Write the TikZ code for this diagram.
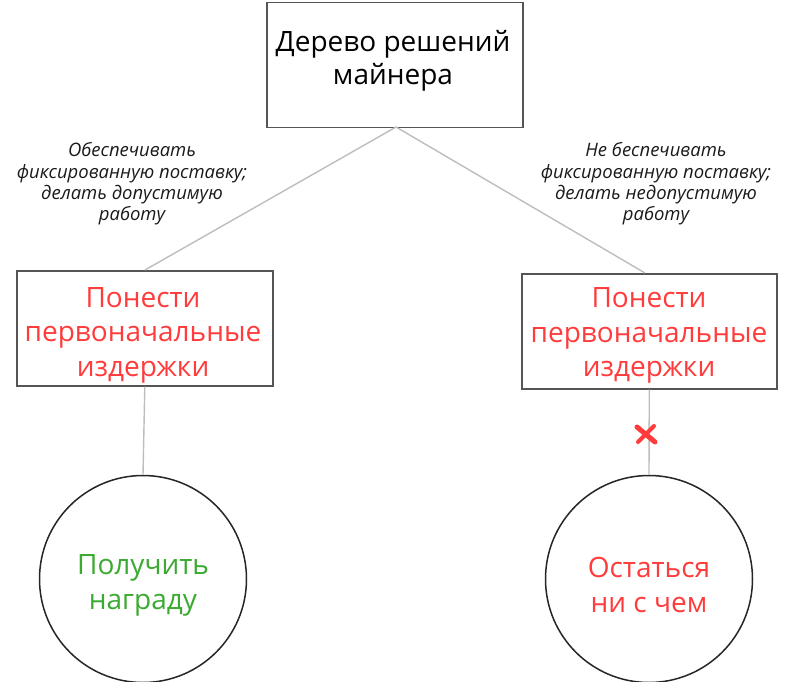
\documentclass[tikz,border=0pt]{standalone}
\usepackage{fontspec}
\setmainfont{Open Sans}
\definecolor{boxline}{HTML}{555555}
\definecolor{conn}{HTML}{BDBDBD}
\definecolor{redtxt}{HTML}{FF3B3B}
\definecolor{greentxt}{HTML}{3BAA32}
\definecolor{labtxt}{HTML}{1A1A1A}
\begin{document}
\begin{tikzpicture}[x=1pt,y=-1pt,
  box/.style={draw=boxline,line width=1.6pt,fill=white,rectangle,align=center,inner sep=0pt},
  circ/.style={draw=black!85,line width=1.5pt,fill=white,circle,align=center,inner sep=0pt,minimum size=207pt},
  conn/.style={draw=conn,line width=1.4pt},
  lab/.style={align=center,font=\fontsize{18.5}{21.3}\selectfont\itshape,text=labtxt,inner sep=0pt},
  bigtxt/.style={font=\fontsize{28}{33.5}\selectfont},
  midtxt/.style={font=\fontsize{28}{34.5}\selectfont},
  circtxt/.style={font=\fontsize{28}{35}\selectfont}]
\useasboundingbox (0,0) rectangle (804,681);
\node[box,minimum width=256pt,minimum height=125pt,anchor=north west] (root) at (266,1.5) {};
\node[bigtxt,align=center] (roottxt) at (393,61) {Дерево решений\\майнера};
\node[box,minimum width=256pt,minimum height=115pt,anchor=north west] (L) at (16,270) {};
\node[midtxt,align=center,text=redtxt] (Ltxt) at (143,335) {Понести\\первоначальные\\издержки};
\node[box,minimum width=255pt,minimum height=115pt,anchor=north west] (R) at (521,273) {};
\node[midtxt,align=center,text=redtxt] (Rtxt) at (649,335.5) {Понести\\первоначальные\\издержки};
\node[circ,circtxt,text=greentxt] (LC) at (143,579) {};
\node[circtxt,align=center,text=greentxt] (LCtxt) at (143,585) {Получить\\награду};
\node[circ,circtxt,text=redtxt] (RC) at (649,579) {};
\node[circtxt,align=center,text=redtxt] (RCtxt) at (649,585) {Остаться\\ни с чем};
\coordinate (rootb) at (396,127);
\coordinate (Lt) at (145,270);
\coordinate (Rt) at (645,273);
\draw[conn] (rootb) -- (Lt);
\draw[conn] (rootb) -- (Rt);
\draw[conn] (L.south) -- (LC.north);
\draw[conn] (R.south) -- (RC.north);
\node[lab] (labL) at (132,184) {Обеспечивать\\фиксированную поставку;\\делать допустимую\\работу};
\node[lab] (labR) at (656,184) {Не беспечивать\\фиксированную поставку;\\делать недопустимую\\работу};
\node[inner sep=0pt,minimum size=22pt] (X) at (646,434) {};
\draw[redtxt,line width=5pt,line cap=round] ([shift={(-9,-7)}]X.center) -- ([shift={(9,8)}]X.center);
\draw[redtxt,line width=4pt,line cap=round] ([shift={(8,-8)}]X.center) -- ([shift={(-8,8)}]X.center);
\end{tikzpicture}
\end{document}
